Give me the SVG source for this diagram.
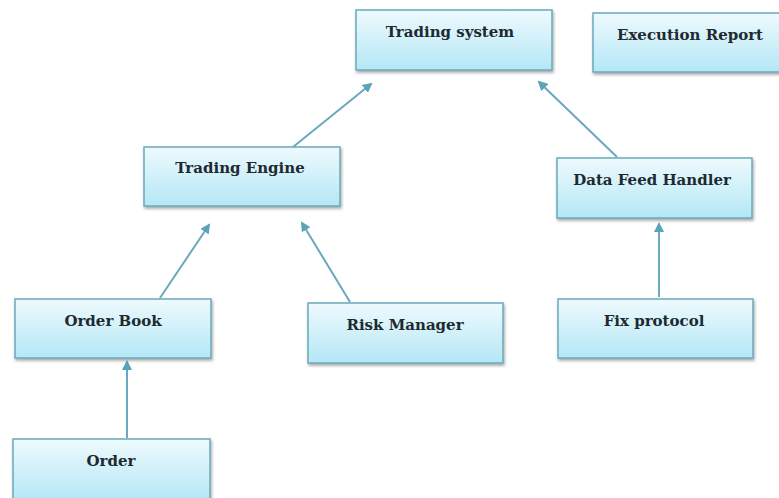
<svg xmlns="http://www.w3.org/2000/svg" width="779" height="498" viewBox="0 0 779 498">
<defs>
<linearGradient id="g" x1="0" y1="0" x2="0" y2="1">
<stop offset="0" stop-color="#eefafd"/>
<stop offset="1" stop-color="#b4e7f6"/>
</linearGradient>
<filter id="sh" x="-10%" y="-10%" width="120%" height="130%">
<feDropShadow dx="1" dy="2" stdDeviation="1.5" flood-color="#000" flood-opacity="0.35"/>
</filter>
<marker id="ah" markerWidth="10" markerHeight="10" refX="8" refY="5" orient="auto" markerUnits="userSpaceOnUse">
<path d="M0,0 L10,5 L0,10 z" fill="#5aa3b9"/>
</marker>
<style>
.box{fill:url(#g);stroke:#6aa9ba;stroke-width:1.5;filter:url(#sh)}
.t{font-family:"DejaVu Serif","Liberation Serif",serif;font-weight:bold;font-size:15px;fill:#1e2a30;text-anchor:middle}
.c{stroke:#6aa9bd;stroke-width:2;fill:none;marker-end:url(#ah)}
</style>
</defs>
<rect width="779" height="498" fill="#fff"/>
<g id="connectors">
<line class="c" x1="293" y1="147" x2="371" y2="84"/>
<line class="c" x1="617" y1="157" x2="539" y2="82"/>
<line class="c" x1="160" y1="298" x2="209" y2="225"/>
<line class="c" x1="350" y1="302" x2="302" y2="223"/>
<line class="c" x1="127" y1="438" x2="127" y2="362"/>
<line class="c" x1="659" y1="297" x2="659" y2="224"/>
</g>
<g id="trading-system"><rect class="box" x="356" y="10" width="196" height="60"/><text class="t" x="450" y="37">Trading system</text></g>
<g id="execution-report"><rect class="box" x="593" y="13" width="195" height="59"/><text class="t" x="690" y="40">Execution Report</text></g>
<g id="trading-engine"><rect class="box" x="144" y="147" width="196" height="59"/><text class="t" x="240" y="173">Trading Engine</text></g>
<g id="data-feed-handler"><rect class="box" x="557" y="158" width="195" height="60"/><text class="t" x="652" y="185">Data Feed Handler</text></g>
<g id="order-book"><rect class="box" x="15" y="299" width="196" height="59"/><text class="t" x="113" y="326">Order Book</text></g>
<g id="risk-manager"><rect class="box" x="308" y="303" width="195" height="60"/><text class="t" x="405" y="330">Risk Manager</text></g>
<g id="fix-protocol"><rect class="box" x="558" y="299" width="195" height="59"/><text class="t" x="654" y="326">Fix protocol</text></g>
<g id="order"><rect class="box" x="13" y="439" width="197" height="62"/><text class="t" x="111" y="466">Order</text></g>
</svg>
